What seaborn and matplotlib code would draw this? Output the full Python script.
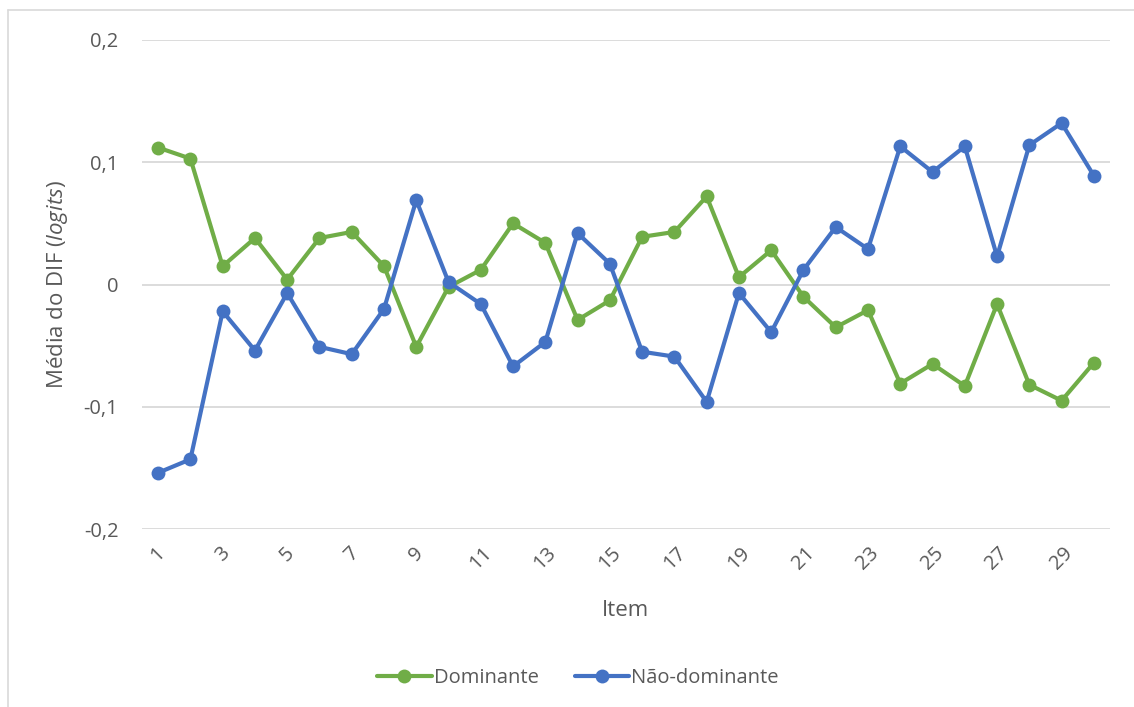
import matplotlib
matplotlib.use("Agg")
import matplotlib.pyplot as plt
import matplotlib.lines as mlines
import seaborn as sns
import pandas as pd
import numpy as np

items = list(range(1, 31))
dominante = [0.112, 0.103, 0.015, 0.038, 0.004, 0.038, 0.043, 0.015, -0.051, -0.002,
             0.012, 0.050, 0.034, -0.029, -0.013, 0.039, 0.043, 0.072, 0.006, 0.028,
             -0.010, -0.035, -0.021, -0.081, -0.065, -0.083, -0.016, -0.082, -0.095, -0.064]
nao_dominante = [-0.154, -0.143, -0.022, -0.054, -0.007, -0.051, -0.057, -0.020, 0.069, 0.002,
                 -0.016, -0.067, -0.047, 0.042, 0.017, -0.055, -0.059, -0.096, -0.007, -0.039,
                 0.012, 0.047, 0.029, 0.113, 0.092, 0.113, 0.023, 0.114, 0.132, 0.089]
series_names = ["Dominante", "Não-dominante"]
y_ticks = [-0.2, -0.1, 0.0, 0.1, 0.2]
y_tick_labels = ["-0,2", "-0,1", "0", "0,1", "0,2"]
x_ticks = list(range(1, 31, 2))

df = pd.DataFrame({
    "Item": items * 2,
    "valor": dominante + nao_dominante,
    "grupo": [series_names[0]] * 30 + [series_names[1]] * 30,
})

sns.set_theme(style="white")
plt.rcParams["font.family"] = ["Open Sans", "DejaVu Sans"]
plt.rcParams["mathtext.fontset"] = "custom"
plt.rcParams["mathtext.rm"] = "Open Sans"
plt.rcParams["mathtext.it"] = "Open Sans:italic"

text_color = "#595959"
palette = {"Dominante": "#70AD47", "Não-dominante": "#4472C4"}

fig = plt.figure(figsize=(11.34, 7.07), dpi=100)
ax = fig.add_axes([142 / 1134, 1 - 529 / 707, (1110 - 142) / 1134, (529 - 40) / 707])

sns.lineplot(data=df, x="Item", y="valor", hue="grupo", palette=palette,
             marker="o", markersize=10, markeredgewidth=0, linewidth=3,
             ax=ax, legend=False, zorder=3)

ax.set_xlim(0.5, 30.5)
ax.set_ylim(-0.2, 0.2)
ax.set_yticks(y_ticks)
ax.set_yticklabels(y_tick_labels)
ax.set_xticks(x_ticks)
ax.set_xticklabels([str(v) for v in x_ticks], rotation=45, ha="center", va="top")
ax.tick_params(axis="x", length=0, pad=10, labelsize=14.5, labelcolor=text_color)
ax.tick_params(axis="y", length=0, pad=17, labelsize=14.5, labelcolor=text_color)
ax.grid(axis="y", color="#D9D9D9", linewidth=1.3)
ax.grid(axis="x", visible=False)
for s in ax.spines.values():
    s.set_visible(False)

ax.set_xlabel("Item", fontsize=16, color=text_color, labelpad=19)
ax.set_ylabel("Média do DIF ($\\mathit{logits}$)", fontsize=16, color=text_color)
ax.yaxis.set_label_coords(-(142 - 70) / 968, 0.5)

handles = [mlines.Line2D([], [], color=palette[n], marker="o", markersize=10,
                         markeredgewidth=0, linewidth=3, label=n) for n in series_names]
fig.legend(handles=handles, loc="center", bbox_to_anchor=(578 / 1134, 1 - 678 / 707),
           ncol=2, frameon=False, fontsize=14.5, handlelength=2.7, handletextpad=0.1,
           columnspacing=1.8, labelcolor=text_color)

# chart border (top and left visible)
fig.add_artist(mlines.Line2D([8 / 1134, 1.0], [1 - 10 / 707, 1 - 10 / 707],
                             color="#D9D9D9", linewidth=1.2, transform=fig.transFigure))
fig.add_artist(mlines.Line2D([8 / 1134, 8 / 1134], [0.0, 1 - 10 / 707],
                             color="#D9D9D9", linewidth=1.2, transform=fig.transFigure))

fig.savefig("out.png", dpi=100)
